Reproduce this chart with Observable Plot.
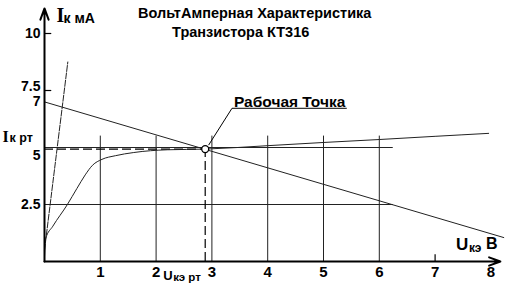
<!DOCTYPE html>
<html>
<head>
<meta charset="utf-8">
<script src="https://cdn.jsdelivr.net/npm/d3@7"></script>
<script src="https://cdn.jsdelivr.net/npm/@observablehq/plot@0.6"></script>
<style>
  body { margin: 0; background: #fff; }
  svg { background: #fff; }
</style>
</head>
<body>
<div id="chart"></div>
<script>
// ---- data ----
const titleLines = ["ВольтАмперная Характеристика", "Транзистора КТ316"];
const xTicks = [1, 2, 3, 4, 5, 6, 7, 8];
const yTicks = [10, 7, 2.5];
const yTicksShiftedUp = [7.5];
const yTicksShiftedDown = [5];
const yTickMarks = [10, 7.5];
const xTickMarks = [7];
// output characteristic (Uкэ, Iк)
const curveU = [0, 0.02, 0.15, 0.41, 0.58, 0.73, 0.86, 1.03, 1.27, 1.6, 2.2, 2.88, 4, 5, 6, 7, 7.96];
const curveI = [0.2, 1.0, 1.55, 2.5, 3.2, 3.8, 4.22, 4.48, 4.64, 4.78, 4.9, 4.93, 5.08, 5.22, 5.35, 5.49, 5.62];
// steep (saturation) line
const steepU = [0, 0.418];
const steepI = [0.5, 8.75];
// load line
const loadU = [0, 8.23];
const loadI = [7, 1.05];
// working point
const opU = 2.88;
const opI = 4.93;
const opLabel = "Рабочая Точка";
// callout leader and underline
const calloutU = [2.945, 3.36, 5.41];
const calloutI = [5.12, 6.72, 6.72];
// grid
const hGrid = [2.5, 5];
const hGridEnd = 6.25;
const vGrid = [1, 2, 3, 4, 5, 6];
const vGridTop = 5.5;
// axis extents
const xAxisEnd = 8.17;
const yAxisEnd = 11.1;

const curve = curveU.map((u, i) => ({u, i: curveI[i]}));
const steep = steepU.map((u, i) => ({u, i: steepI[i]}));
const load = loadU.map((u, i) => ({u, i: loadI[i]}));
const callout = calloutU.map((u, i) => ({u, i: calloutI[i]}));

const sans = "Liberation Sans, Arial, sans-serif";
const serif = "Liberation Serif, Times New Roman, serif";

const chart = Plot.plot({
  width: 510,
  height: 284,
  marginLeft: 44,
  marginRight: 19.6,
  marginTop: 33,
  marginBottom: 23,
  x: {domain: [0, 8]},
  y: {domain: [0, 10]},
  style: {fontFamily: sans, fontWeight: "bold", color: "#000", background: "#fff", overflow: "visible"},
  marks: [
    // grid
    Plot.ruleY(hGrid, {x1: 0, x2: hGridEnd, stroke: "#222", strokeWidth: 1}),
    Plot.ruleX(vGrid, {y1: 0, y2: vGridTop, stroke: "#222", strokeWidth: 1}),
    // dashed projections of working point
    Plot.ruleY([opI], {x1: 0, x2: opU, stroke: "#000", strokeWidth: 1.2, strokeDasharray: "9,4"}),
    Plot.ruleX([opU], {y1: 0, y2: opI, stroke: "#000", strokeWidth: 1.2, strokeDasharray: "9,4"}),
    // curves
    Plot.line(steep, {x: "u", y: "i", stroke: "#222", strokeWidth: 1, strokeDasharray: "6,1.5"}),
    Plot.line(load, {x: "u", y: "i", stroke: "#222", strokeWidth: 1}),
    Plot.line(curve, {x: "u", y: "i", stroke: "#222", strokeWidth: 1, curve: "monotone-x"}),
    // axes with arrows
    Plot.arrow([0], {x1: 0, y1: 0, x2: 0, y2: yAxisEnd, stroke: "#000", strokeWidth: 2, headLength: 9, headAngle: 40}),
    Plot.arrow([0], {x1: 0, y1: 0, x2: xAxisEnd, y2: 0, stroke: "#000", strokeWidth: 2, headLength: 9, headAngle: 40}),
    Plot.ruleY(yTickMarks, {x1: 0, x2: 0.13, stroke: "#000", strokeWidth: 1.2}),
    Plot.ruleX(xTickMarks, {y1: 0, y2: 0.3, stroke: "#000", strokeWidth: 1.2}),
    Plot.axisX(xTicks, {tickSize: 0, tickPadding: 5, fontSize: 15, fontWeight: "bold", label: null}),
    Plot.axisY(yTicks, {tickSize: 0, tickPadding: 4, fontSize: 14, fontWeight: "bold", label: null, tickFormat: d => String(d)}),
    Plot.text(yTicksShiftedUp, {x: 0, y: d => d, text: d => String(d), textAnchor: "end", dx: -4, dy: -4, fontSize: 14, fontWeight: "bold"}),
    Plot.text(yTicksShiftedDown, {x: 0, y: d => d, text: d => String(d), textAnchor: "end", dx: -4, dy: 8, fontSize: 14, fontWeight: "bold"}),
    // callout
    Plot.line(callout, {x: "u", y: "i", stroke: "#000", strokeWidth: 1}),
    Plot.text([opLabel], {x: calloutU[1], y: calloutI[1], text: d => d, textAnchor: "start", lineAnchor: "bottom", dx: 2, dy: -1, fontSize: 15.5, fontWeight: "bold"}),
    // working point
    Plot.dot([opU], {x: d => d, y: opI, r: 3.5, fill: "#fff", stroke: "#000", strokeWidth: 1.3}),
    // I axis labels
    Plot.text(["I"], {frameAnchor: "top-left", text: d => d, textAnchor: "start", lineAnchor: "middle", dx: 12, dy: -18, fontFamily: serif, fontSize: 20, fontWeight: "bold"}),
    Plot.text(["к мА"], {frameAnchor: "top-left", text: d => d, textAnchor: "start", lineAnchor: "middle", dx: 19, dy: -15, fontSize: 14, fontWeight: "bold"}),
    Plot.text(["I"], {x: 0, y: opI, text: d => d, textAnchor: "start", lineAnchor: "middle", dx: -42, dy: -12, fontFamily: serif, fontSize: 16, fontWeight: "bold"}),
    Plot.text(["к рт"], {x: 0, y: opI, text: d => d, textAnchor: "start", lineAnchor: "middle", dx: -35, dy: -11, fontSize: 12.5, fontWeight: "bold"}),
    // U axis labels
    Plot.text(["U"], {frameAnchor: "bottom-right", text: d => d, textAnchor: "start", lineAnchor: "middle", dx: -35, dy: -17, fontSize: 17, fontWeight: "bold"}),
    Plot.text(["кэ"], {frameAnchor: "bottom-right", text: d => d, textAnchor: "start", lineAnchor: "middle", dx: -22, dy: -13, fontSize: 12, fontWeight: "bold"}),
    Plot.text(["B"], {frameAnchor: "bottom-right", text: d => d, textAnchor: "start", lineAnchor: "middle", dx: -5, dy: -18, fontSize: 16, fontWeight: "bold"}),
    Plot.text(["U"], {x: opU, y: 0, text: d => d, textAnchor: "start", lineAnchor: "middle", dx: -42, dy: 14, fontSize: 13, fontWeight: "bold"}),
    Plot.text(["кэ рт"], {x: opU, y: 0, text: d => d, textAnchor: "start", lineAnchor: "middle", dx: -32, dy: 16, fontSize: 11.5, fontWeight: "bold"}),
    // title
    Plot.text([titleLines[0]], {frameAnchor: "top", text: d => d, lineAnchor: "middle", dx: -13, dy: -20, fontSize: 14.5, fontWeight: "bold"}),
    Plot.text([titleLines[1]], {frameAnchor: "top", text: d => d, lineAnchor: "middle", dx: -27, dy: -1, fontSize: 14.5, fontWeight: "bold"})
  ]
});

document.getElementById("chart").append(chart);
</script>
</body>
</html>
